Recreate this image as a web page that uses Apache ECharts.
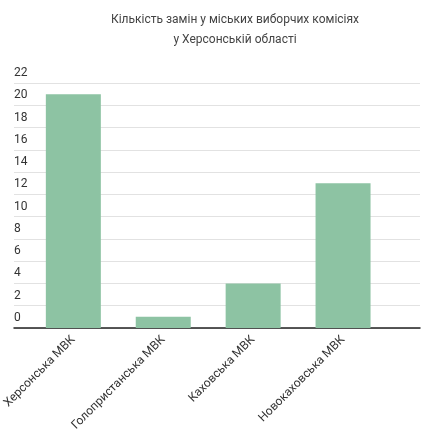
<!DOCTYPE html>
<html>
<head>
<meta charset="utf-8">
<script src="https://cdn.jsdelivr.net/npm/echarts@6/dist/echarts.min.js"></script>
<style>html,body{margin:0;padding:0;background:#fff}#main{width:431px;height:435px}</style>
</head>
<body>
<div id="main"></div>
<script>
var categories = ['Херсонська МВК', 'Голопристанська МВК', 'Каховська МВК', 'Новокаховська МВК'];
var values = [21, 1, 4, 13];
var yMax = 22, yStep = 2;

var myChart = echarts.init(document.getElementById('main'));
var option = {
    backgroundColor: '#fff',
    textStyle: { fontFamily: 'Roboto' },
    title: {
        text: 'Кількість замін у міських виборчих комісіях\nу Херсонській області',
        left: 230, top: 5, textAlign: 'center',
        textStyle: { fontSize: 12, fontWeight: 'normal', color: '#444', lineHeight: 20 }
    },
    grid: [
        { left: 27, right: 43, top: 83, bottom: 107 },
        { left: 14, right: 11, top: 83, bottom: 107 }
    ],
    xAxis: [{
        type: 'category', gridIndex: 0, data: categories,
        axisLine: { show: false },
        axisTick: { show: false },
        axisLabel: { rotate: 45, color: '#333', fontSize: 12, margin: 10 }
    }, {
        type: 'value', gridIndex: 1, min: 0, max: 1,
        axisLine: { show: true, onZero: false, lineStyle: { color: '#222', width: 1.5 } },
        axisTick: { show: false }, axisLabel: { show: false }, splitLine: { show: false }
    }],
    yAxis: [{
        type: 'value', gridIndex: 0, min: 0, max: yMax, interval: yStep,
        axisLine: { show: false }, axisTick: { show: false },
        axisLabel: { show: false }, splitLine: { show: false }
    }, {
        type: 'value', gridIndex: 1, min: 0, max: yMax, interval: yStep,
        axisLine: { show: false }, axisTick: { show: false },
        axisLabel: { inside: true, margin: 0, verticalAlign: 'bottom', padding: [0, 0, 4, 0], color: '#333', fontSize: 12 },
        splitLine: { lineStyle: { color: '#e2e2e2' } }
    }],
    series: [{
        type: 'bar', xAxisIndex: 0, yAxisIndex: 0, data: values,
        barWidth: 55, z: 3,
        itemStyle: { color: '#8dc3a3' }
    }]
};
myChart.setOption(option);
</script>
</body>
</html>
